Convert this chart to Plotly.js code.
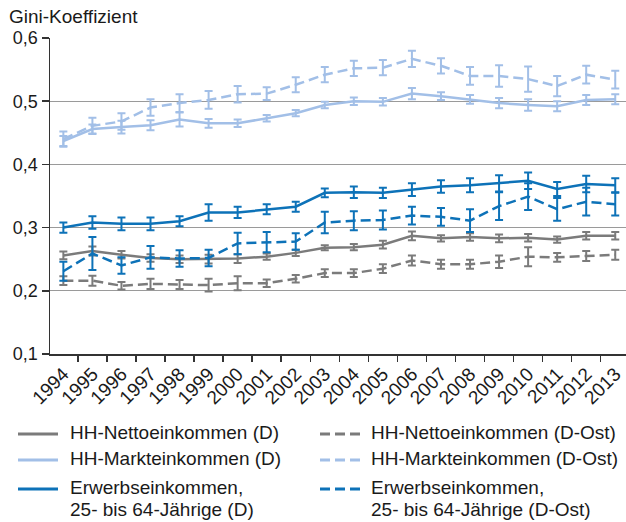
<!DOCTYPE html>
<html>
<head>
<meta charset="utf-8">
<script src="https://cdn.plot.ly/plotly-3.0.1.min.js"></script>
<style>html,body{margin:0;padding:0;background:#fff;}#chart{width:626px;height:522px;}</style>
</head>
<body>
<div id="chart"></div>
<script>
const years = ['1994','1995','1996','1997','1998','1999','2000','2001','2002','2003','2004','2005','2006','2007','2008','2009','2010','2011','2012','2013'];

const nettoD      = [0.256,0.263,0.257,0.252,0.250,0.250,0.251,0.254,0.260,0.268,0.269,0.273,0.287,0.283,0.285,0.283,0.284,0.281,0.287,0.287];
const nettoDErr   = [0.006,0.007,0.006,0.006,0.006,0.007,0.007,0.005,0.005,0.004,0.005,0.006,0.007,0.005,0.006,0.006,0.006,0.005,0.006,0.006];
const nettoOst    = [0.216,0.216,0.208,0.211,0.210,0.209,0.212,0.212,0.219,0.228,0.228,0.235,0.248,0.242,0.242,0.246,0.254,0.253,0.255,0.257];
const nettoOstErr = [0.007,0.008,0.006,0.008,0.007,0.010,0.011,0.006,0.006,0.006,0.006,0.007,0.008,0.007,0.007,0.010,0.015,0.007,0.008,0.008];

const marktD      = [0.437,0.456,0.459,0.462,0.471,0.465,0.465,0.473,0.481,0.494,0.500,0.499,0.512,0.508,0.503,0.497,0.494,0.492,0.502,0.503];
const marktDErr   = [0.008,0.007,0.010,0.008,0.011,0.007,0.006,0.005,0.005,0.005,0.006,0.006,0.009,0.006,0.007,0.008,0.009,0.008,0.008,0.008];
const marktOst    = [0.440,0.461,0.468,0.490,0.497,0.502,0.511,0.512,0.526,0.542,0.552,0.553,0.567,0.556,0.540,0.540,0.535,0.524,0.542,0.534];
const marktOstErr = [0.012,0.013,0.013,0.013,0.014,0.014,0.013,0.010,0.012,0.012,0.012,0.012,0.013,0.012,0.014,0.017,0.020,0.016,0.014,0.014];

const erwerbD      = [0.300,0.308,0.306,0.306,0.310,0.324,0.324,0.329,0.333,0.355,0.356,0.355,0.360,0.365,0.367,0.370,0.374,0.361,0.369,0.367];
const erwerbDErr   = [0.008,0.010,0.010,0.010,0.008,0.013,0.009,0.008,0.008,0.007,0.009,0.008,0.010,0.010,0.011,0.013,0.013,0.011,0.013,0.011];
const erwerbOst    = [0.231,0.259,0.240,0.253,0.251,0.252,0.275,0.277,0.278,0.308,0.311,0.312,0.319,0.317,0.311,0.334,0.349,0.329,0.341,0.337];
const erwerbOstErr = [0.015,0.026,0.013,0.018,0.013,0.013,0.017,0.016,0.013,0.017,0.015,0.015,0.014,0.014,0.018,0.022,0.021,0.018,0.022,0.018];

const labels = ['HH-Nettoeinkommen (D)','HH-Nettoeinkommen (D-Ost)','HH-Markteinkommen (D)','HH-Markteinkommen (D-Ost)',
  ['Erwerbseinkommen,','25- bis 64-Jährige (D)'],['Erwerbseinkommen,','25- bis 64-Jährige (D-Ost)']];

const GRAY = '#7b7b7b', LIGHT = '#a2bfe7', BLUE = '#0d72b8';
const DASH = '10px,5px';

function tr(y, err, color, dash) {
  return {
    x: years, y: y, type: 'scatter', mode: 'lines', showlegend: false, hoverinfo: 'skip',
    line: {color: color, width: 2.5, dash: dash},
    error_y: {type: 'data', array: err, visible: true, color: color, thickness: 2, width: 4}
  };
}

const data = [
  tr(nettoOst, nettoOstErr, GRAY, DASH),
  tr(nettoD, nettoDErr, GRAY, 'solid'),
  tr(marktOst, marktOstErr, LIGHT, DASH),
  tr(marktD, marktDErr, LIGHT, 'solid'),
  tr(erwerbOst, erwerbOstErr, BLUE, DASH),
  tr(erwerbD, erwerbDErr, BLUE, 'solid')
];

// plot area geometry in pixels (for legend placement in paper coords)
const L = 50, T = 38, B = 168, W = 626, H = 522;
const PW = W - L, PH = H - T - B;
const px = v => (v - L) / PW;
const py = v => (H - B - v) / PH;

const FONT = 'Liberation Sans, Arial, Helvetica, sans-serif';
const shapes = [], annotations = [];
const legendItems = [
  {col: 0, row: 0, color: GRAY, dash: 'solid', text: labels[0]},
  {col: 1, row: 0, color: GRAY, dash: 'dash', text: labels[1]},
  {col: 0, row: 1, color: LIGHT, dash: 'solid', text: labels[2]},
  {col: 1, row: 1, color: LIGHT, dash: 'dash', text: labels[3]},
  {col: 0, row: 2, color: BLUE, dash: 'solid', text: labels[4]},
  {col: 1, row: 2, color: BLUE, dash: 'dash', text: labels[5]}
];
const colLine = [[18, 58], [320, 360]];
const colText = [68, 369];
const rowY = [434, 460, 489];
legendItems.forEach(it => {
  const [x0, x1] = colLine[it.col];
  shapes.push({type: 'line', xref: 'paper', yref: 'paper', x0: px(x0), x1: px(x1), y0: py(rowY[it.row]), y1: py(rowY[it.row]),
    line: {color: it.color, width: 3, dash: it.dash === 'dash' ? DASH : 'solid'}});
  const lines = Array.isArray(it.text) ? it.text : [it.text];
  lines.forEach((t, i) => {
    annotations.push({xref: 'paper', yref: 'paper', x: px(colText[it.col]), y: py(rowY[it.row] - 2 + i * 22),
      xanchor: 'left', yanchor: 'middle', showarrow: false, text: t,
      font: {family: FONT, size: 19, color: '#1a1a1a'}});
  });
});
annotations.push({xref: 'paper', yref: 'paper', x: px(7), y: py(16), xanchor: 'left', yanchor: 'middle',
  showarrow: false, text: 'Gini-Koeffizient', font: {family: FONT, size: 19, color: '#1a1a1a'}});

const layout = {
  width: W, height: H,
  margin: {l: L, r: 0, t: T, b: B},
  paper_bgcolor: '#ffffff', plot_bgcolor: '#ffffff',
  separators: ', ',
  font: {family: FONT, size: 17, color: '#1a1a1a'},
  showlegend: false,
  xaxis: {
    type: 'category', range: [-0.46, 19.37], tickson: 'boundaries',
    ticks: 'outside', ticklen: 6, tickwidth: 1.5, tickcolor: '#333',
    tickangle: -45, showgrid: false, zeroline: false,
    showline: true, linecolor: '#333', linewidth: 1.5,
    tickfont: {family: FONT, size: 19, color: '#1a1a1a'}
  },
  yaxis: {
    range: [0.1, 0.6], dtick: 0.1, tick0: 0.1, tickformat: '.1f',
    ticks: 'outside', ticklen: 7, tickwidth: 1.5, tickcolor: '#333',
    showgrid: true, gridcolor: '#9a9a9a', gridwidth: 1.3, zeroline: false,
    showline: true, linecolor: '#333', linewidth: 1.5,
    tickfont: {family: FONT, size: 18, color: '#1a1a1a'}
  },
  shapes: shapes,
  annotations: annotations
};

Plotly.newPlot('chart', data, layout, {staticPlot: true, displayModeBar: false});
</script>
</body>
</html>
